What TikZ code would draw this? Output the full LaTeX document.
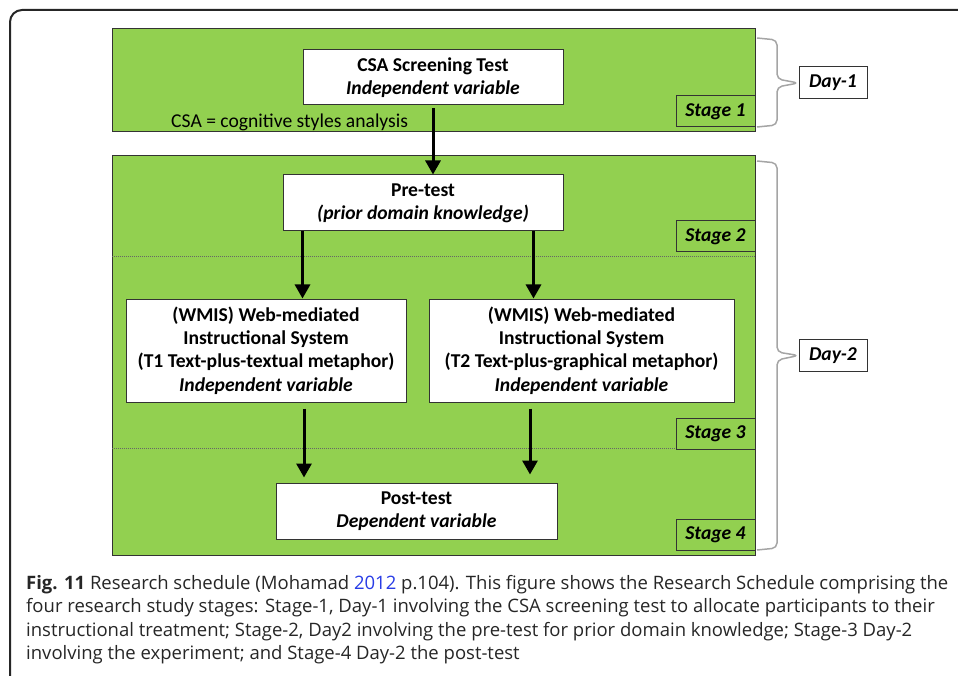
\documentclass[tikz,border=0pt]{standalone}
\usepackage{fontspec}
\setmainfont{Carlito}
\newfontfamily\capfont{Open Sans}
\usetikzlibrary{arrows.meta}
\definecolor{stagegreen}{RGB}{146,208,80}
\definecolor{bracegray}{RGB}{165,165,165}
\definecolor{citeblue}{RGB}{40,60,230}

\begin{document}
\begin{tikzpicture}[x=1pt,y=-1pt]
\tikzstyle{every node} = [font=\fontsize{19.6}{23.3}\selectfont\bfseries, align=center, inner sep=0pt]
\tikzstyle{panel} = [draw=black!80, fill=stagegreen, line width=1pt, anchor=north west]
\tikzstyle{box} = [draw=black!80, fill=white, line width=1pt]
\tikzstyle{stagebox} = [draw=black!80, fill=stagegreen, line width=1pt, minimum width=79pt, minimum height=31pt, font=\fontsize{19.6}{23.3}\selectfont\bfseries\itshape]
\tikzstyle{daybox} = [draw=black!80, fill=white, line width=1pt, minimum width=68pt, minimum height=32pt, font=\fontsize{19.6}{23.3}\selectfont\bfseries\itshape]
\tikzstyle{arr} = [line width=3pt, -{Triangle[width=15pt,length=14pt]}]
\tikzstyle{brace} = [bracegray, line width=1.5pt, rounded corners=5pt]
\tikzstyle{sep} = [black!60, line width=0.8pt, dash pattern=on 1pt off 1pt]

\useasboundingbox (0,0) rectangle (958,676);
\draw[black!85, line width=2pt, rounded corners=12pt] (10,690) -- (10,10) -- (970,10);

% day 1
\node[panel, minimum width=643pt, minimum height=103pt] (day1panel) at (112,28) {};
\node[box, minimum width=260pt, minimum height=55pt] (csa) at (433,77.5) {CSA Screening Test\\\textit{Independent variable}};
\node[anchor=west, font=\fontsize{19.6}{23.3}\selectfont] (csanote) at (171,122) {CSA = cognitive styles analysis};
\node[stagebox] (stage1) at (715.5,111.5) {Stage 1};

% day 2
\node[panel, minimum width=643pt, minimum height=400pt] (day2panel) at (112,155) {};
\draw[sep] (112,256) -- (755,256);
\draw[sep] (112,448) -- (676,448);
\node[box, minimum width=280pt, minimum height=56pt] (pre) at (423,203) {Pre-test\\\textit{(prior domain knowledge)}};
\node[box, minimum width=280pt, minimum height=103pt] (wl) at (266,350.5) {(WMIS) Web-mediated\\Instructional System\\(T1 Text-plus-textual metaphor)\\\textit{Independent variable}};
\node[box, minimum width=305pt, minimum height=103pt] (wr) at (581.5,350.5) {(WMIS) Web-mediated\\Instructional System\\(T2 Text-plus-graphical metaphor)\\\textit{Independent variable}};
\node[box, minimum width=281pt, minimum height=56pt] (post) at (416.5,511) {Post-test\\\textit{Dependent variable}};
\node[stagebox] (stage2) at (715.5,236.5) {Stage 2};
\node[stagebox] (stage3) at (715.5,433.5) {Stage 3};
\node[stagebox] (stage4) at (715.5,535) {Stage 4};

\draw[arr] ([yshift=-3pt]csa.south) -- (csa.south |- pre.north);
\draw[arr] ([xshift=20pt]pre.south west) -- ([xshift=20pt]pre.south west |- wl.north);
\draw[arr] ([xshift=-30pt]pre.south east) -- ([xshift=-30pt]pre.south east |- wr.north);
\draw[arr, shorten >=5pt] ([xshift=38pt,yshift=-6pt]wl.south) -- ([xshift=38pt]wl.south |- post.north);
\draw[arr, shorten >=8pt] ([xshift=-51.5pt,yshift=-6pt]wr.south) -- ([xshift=-51.5pt]wr.south |- post.north);

% days
\node[daybox] (day1) at (833,83) {Day-1};
\node[daybox] (day2) at (833,355.5) {Day-2};
\draw[brace] (757,38) -- (777,40) -- (777,79) -- (day1.west) -- (777,87) -- (777,125) -- (757,127);
\draw[brace] (757,161) -- (777,163) -- (777,352) -- (day2.west) -- (777,360) -- (777,548) -- (757,550);

% caption
\node[anchor=north west, align=left, text=black!85, font=\capfont\fontsize{18.5}{23.5}\selectfont] (caption) at (26,575) {\textbf{Fig. 11} Research schedule (Mohamad {\color{citeblue}2012} p.104). This figure shows the Research Schedule comprising the\\
four research study stages: Stage-1, Day-1 involving the CSA screening test to allocate participants to their\\
instructional treatment; Stage-2, Day2 involving the pre-test for prior domain knowledge; Stage-3 Day-2\\
involving the experiment; and Stage-4 Day-2 the post-test};
\end{tikzpicture}
\end{document}
